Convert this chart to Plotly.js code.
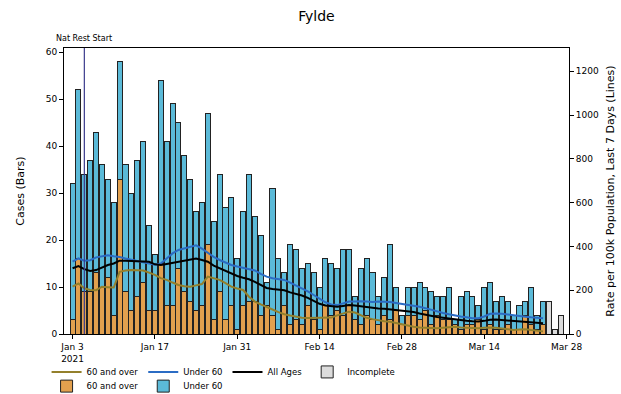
<!DOCTYPE html>
<html>
<head>
<meta charset="utf-8">
<script src="https://cdn.plot.ly/plotly-3.0.1.min.js"></script>
<style>html,body{margin:0;padding:0;background:#fff;}#chart{width:621px;height:394px;}</style>
</head>
<body>
<div id="chart"></div>
<script>
// ---- data ----
const startDate = '2021-01-03';   // first complete day
const over60Cases = [3,16,9,9,13,10,12,4,33,9,5,8,11,5,5,15,6,6,14,9,7,5,6,19,3,9,3,6,1,6,7,7,4,6,4,1,6,2,3,2,6,3,1,6,4,5,4,6,3,2,4,3,2,4,3,5,2,4,4,3,5,2,4,3,3,2,1,2,2,3,1,2,1,1,2,1,1,4,2,1,2];
const under60Cases = [29,36,25,28,30,26,21,24,25,27,25,29,30,18,12,39,35,43,31,29,26,21,22,28,21,25,24,23,15,20,27,18,17,5,27,15,7,17,15,12,9,10,9,10,11,9,14,12,5,12,12,10,6,8,16,5,2,6,6,8,5,7,4,5,7,1,7,7,6,3,9,9,6,7,5,3,5,3,8,3,5];
const incompleteDates = ['2021-03-25','2021-03-26','2021-03-27'];
const incompleteCases = [7,1,4];
const rateOver60 = [216,231,209,201,200,216,214,212,284,290,292,292,290,280,270,255,247,235,224,218,216,222,228,262,255,247,232,216,208,201,170,148,135,122,112,100,90,84,78,74,73,73,72,73,75,85,95,102,98,85,74,68,62,58,56,50,44,36,33,30,28,26,26,28,32,33,30,28,26,26,28,30,28,24,20,18,20,22,18,14,12];
const rateUnder60 = [330,345,335,337,350,355,360,355,352,345,340,335,330,322,316,322,345,368,384,392,399,405,390,370,352,338,326,315,308,301,296,290,275,262,255,250,247,235,222,210,195,178,160,145,135,132,140,148,148,150,148,146,148,148,146,142,138,134,130,124,118,110,104,96,90,84,80,76,72,72,80,92,94,92,88,86,82,79,76,74,72];
const rateAll = [300,310,296,288,292,305,315,322,335,335,334,333,332,330,318,315,320,325,328,332,340,345,338,330,312,300,288,276,265,257,250,238,225,210,206,203,200,190,183,176,165,150,138,130,126,124,128,132,130,126,124,120,117,115,112,110,106,103,100,94,88,82,78,74,70,66,62,60,58,57,60,65,66,64,61,60,58,56,54,51,49];
const natRestDate = '2021-01-05';
const tickDates = ['2021-01-03','2021-01-17','2021-01-31','2021-02-14','2021-02-28','2021-03-14','2021-03-28'];
const tickLabels = ['Jan 3<br>2021','Jan 17','Jan 31','Feb 14','Feb 28','Mar 14','Mar 28'];

// consecutive day labels for the complete days
const dates = [];
(function(){
  const d0 = new Date(startDate + 'T00:00:00Z');
  for (let i = 0; i < over60Cases.length; i++) {
    const d = new Date(d0.getTime() + i*86400000);
    dates.push(d.toISOString().slice(0,10));
  }
})();

const DAY = 86400000;
const barW = 0.86*DAY;
const font = 'DejaVu Sans, sans-serif';

const traces = [
  {type:'scatter', mode:'lines', x:dates, y:rateOver60, yaxis:'y2', name:'60 and over',
   line:{color:'#94802c', width:2}, legend:'legend'},
  {type:'scatter', mode:'lines', x:dates, y:rateUnder60, yaxis:'y2', name:'Under 60',
   line:{color:'#2b6cc4', width:2}, legend:'legend'},
  {type:'scatter', mode:'lines', x:dates, y:rateAll, yaxis:'y2', name:'All Ages',
   line:{color:'#000000', width:2}, legend:'legend'},
  {type:'bar', x:incompleteDates, y:incompleteCases, name:'Incomplete', width:barW,
   marker:{color:'#dcdcdc', line:{color:'#222', width:1}}, legend:'legend'},
  {type:'bar', x:dates, y:over60Cases, name:'60 and over', width:barW,
   marker:{color:'#e2a04e', line:{color:'#222', width:1}}, legend:'legend2'},
  {type:'bar', x:dates, y:under60Cases, name:'Under 60', width:barW,
   marker:{color:'#5bbad8', line:{color:'#222', width:1}}, legend:'legend2'}
];

const layout = {
  width:621, height:394,
  margin:{l:64, r:52, t:48, b:60, autoexpand:false},
  paper_bgcolor:'#fff', plot_bgcolor:'#fff',
  font:{family:font, size:9, color:'#000'},
  title:{text:'Fylde', x:0.5, xref:'paper', y:0.958, yref:'container', yanchor:'middle',
         font:{family:font, size:14, color:'#000'}},
  barmode:'stack', bargap:0,
  showlegend:true,
  xaxis:{type:'date', range:['2021-01-01 13:00','2021-03-28 10:00'],
         tickvals:tickDates, ticktext:tickLabels, ticks:'outside', ticklen:4, tickcolor:'#000',
         showline:true, linecolor:'#000', linewidth:1, mirror:true, showgrid:false, zeroline:false,
         tickfont:{size:9}},
  yaxis:{range:[0,60.9], tickvals:[0,10,20,30,40,50,60], ticks:'outside', ticklen:4, tickcolor:'#000',
         showline:true, linecolor:'#000', linewidth:1, showgrid:false, zeroline:false,
         title:{text:'Cases (Bars)', font:{size:11}, standoff:18}, tickfont:{size:9}},
  yaxis2:{overlaying:'y', side:'right', range:[0,1306], tickvals:[0,200,400,600,800,1000,1200],
          ticks:'outside', ticklen:4, tickcolor:'#000', showline:true, linecolor:'#000', linewidth:1,
          showgrid:false, zeroline:false,
          title:{text:'Rate per 100k Population, Last 7 Days (Lines)', font:{size:11}, standoff:8},
          tickfont:{size:9}},
  legend:{orientation:'h', x:0.075, xref:'container', xanchor:'left', y:0.056, yref:'container', yanchor:'middle',
          font:{size:8.5}, bgcolor:'rgba(0,0,0,0)', itemwidth:30, traceorder:'normal', tracegroupgap:0},
  legend2:{orientation:'h', x:0.075, xref:'container', xanchor:'left', y:0.02, yref:'container', yanchor:'middle',
          font:{size:8.5}, bgcolor:'rgba(0,0,0,0)', itemwidth:30, traceorder:'normal'},
  shapes:[{type:'line', xref:'x', yref:'paper', x0:natRestDate, x1:natRestDate, y0:0, y1:1,
           line:{color:'#3a3a8c', width:1.2}}],
  annotations:[{text:'Nat Rest Start', xref:'x', yref:'paper', x:natRestDate, y:1, yanchor:'bottom',
                xanchor:'center', yshift:3, showarrow:false, font:{size:8, color:'#000'}}]
};

Plotly.newPlot('chart', traces, layout, {displayModeBar:false, staticPlot:true});
</script>
</body>
</html>
